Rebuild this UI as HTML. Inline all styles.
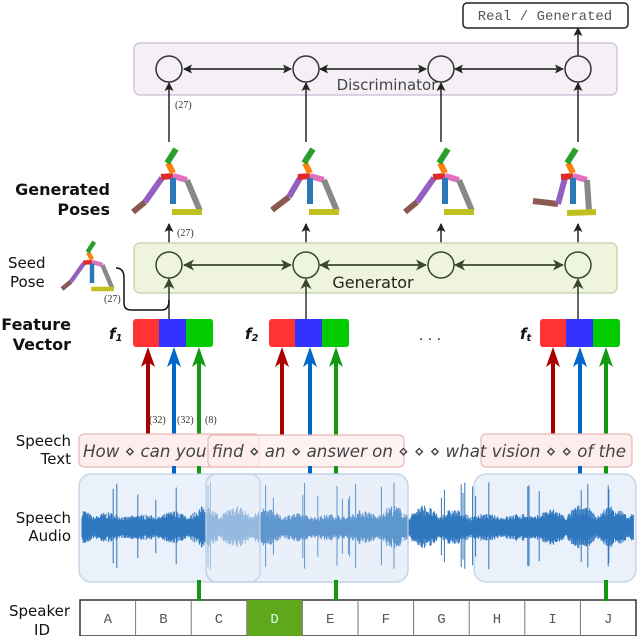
<!DOCTYPE html>
<html><head><meta charset="utf-8"><style>
body{margin:0;background:#fff;}
svg{display:block;}
text{font-family:"DejaVu Sans","Liberation Sans",sans-serif;}
</style></head><body>
<svg id="s" width="640" height="636" viewBox="0 0 640 636" xmlns="http://www.w3.org/2000/svg">
<defs>
<marker id="ak" markerWidth="9" markerHeight="9" refX="8" refY="4.5" orient="auto" markerUnits="userSpaceOnUse"><path d="M0,0 L9,4.5 L0,9 L2,4.5z" fill="#222"/></marker>
<marker id="ag" markerWidth="11" markerHeight="11" refX="10" refY="5.5" orient="auto" markerUnits="userSpaceOnUse"><path d="M0,0 L11,5.5 L0,11 L3,5.5z" fill="#3a4630"/></marker>
</defs>
<rect x="463" y="3" width="165" height="25" rx="4" fill="#fff" stroke="#222" stroke-width="1.5"/>
<text x="545" y="20" font-size="14" text-anchor="middle" fill="#555" style="font-family:'Liberation Mono',monospace">Real / Generated</text>
<rect x="134" y="43" width="483" height="52" rx="6" fill="#f4f0f6" stroke="#d2c6da" stroke-width="1.5"/>
<text x="387" y="90" font-size="15" fill="#444" text-anchor="middle">Discriminator</text>
<g stroke="#333" stroke-width="1.6" fill="none" marker-end="url(#ak)">
<line x1="184" y1="69" x2="291" y2="69"/><line x1="291" y1="69" x2="184" y2="69"/>
<line x1="320" y1="69" x2="426" y2="69"/><line x1="426" y1="69" x2="320" y2="69"/>
<line x1="455" y1="69" x2="563" y2="69"/><line x1="563" y1="69" x2="455" y2="69"/>
<line x1="578" y1="56" x2="578" y2="28"/>
<line x1="169" y1="142" x2="169" y2="83"/><line x1="306" y1="142" x2="306" y2="83"/>
<line x1="441" y1="142" x2="441" y2="83"/><line x1="578" y1="142" x2="578" y2="83"/>
<line x1="169" y1="244" x2="169" y2="224"/><line x1="306" y1="244" x2="306" y2="224"/>
<line x1="441" y1="244" x2="441" y2="224"/><line x1="578" y1="244" x2="578" y2="224"/>
</g>
<g fill="none" stroke="#333" stroke-width="1.5">
<circle cx="169" cy="69" r="13"/><circle cx="306" cy="69" r="13"/><circle cx="441" cy="69" r="13"/><circle cx="578" cy="69" r="13"/>
</g>
<text x="175" y="108" font-size="10" fill="#333" style="font-family:'Liberation Serif',serif">(27)</text>
<text x="177" y="236" font-size="10" fill="#333" style="font-family:'Liberation Serif',serif">(27)</text>
<rect x="134" y="243" width="483" height="50" rx="6" fill="#eef5dc" stroke="#ccd6b4" stroke-width="1.5"/>
<text x="373" y="288" font-size="16" fill="#222" text-anchor="middle">Generator</text>
<g stroke="#3a4630" stroke-width="1.6" fill="none" marker-end="url(#ag)">
<line x1="184" y1="265" x2="291" y2="265"/><line x1="291" y1="265" x2="184" y2="265"/>
<line x1="320" y1="265" x2="426" y2="265"/><line x1="426" y1="265" x2="320" y2="265"/>
<line x1="455" y1="265" x2="563" y2="265"/><line x1="563" y1="265" x2="455" y2="265"/>
<line x1="169" y1="319" x2="169" y2="279"/><line x1="306" y1="319" x2="306" y2="279"/>
<line x1="578" y1="319" x2="578" y2="279"/>
</g>
<g fill="none" stroke="#3a4630" stroke-width="1.5">
<circle cx="169" cy="265" r="13"/><circle cx="306" cy="265" r="13"/><circle cx="441" cy="265" r="13"/><circle cx="578" cy="265" r="13"/>
</g>
<path d="M116,268 Q124,268 124,278 L124,303 Q124,310 131,310 L162,310 Q169,310 169,300" fill="none" stroke="#111" stroke-width="1.5"/>
<text x="104" y="302" font-size="10" fill="#333" style="font-family:'Liberation Serif',serif">(27)</text>
<g font-weight="bold" font-size="16" fill="#111" text-anchor="end">
<text x="110" y="195">Generated</text><text x="110" y="215">Poses</text>
<text x="71" y="330">Feature</text><text x="71" y="350">Vector</text>
</g>
<g font-size="15" fill="#111">
<text x="8" y="268">Seed</text><text x="10" y="287">Pose</text>
<text x="71" y="446" text-anchor="end">Speech</text><text x="71" y="464" text-anchor="end">Text</text>
<text x="71" y="523" text-anchor="end">Speech</text><text x="71" y="541" text-anchor="end">Audio</text>
<text x="70" y="616" text-anchor="end">Speaker</text><text x="50" y="635" text-anchor="end">ID</text>
</g>
<g font-style="italic" font-weight="bold" font-size="15" fill="#111" style="font-family:'Liberation Serif',serif">
<text x="109" y="339">f<tspan font-size="10" dy="2">1</tspan></text>
<text x="245" y="339">f<tspan font-size="10" dy="2">2</tspan></text>
<text x="520" y="339">f<tspan font-size="10" dy="2">t</tspan></text>
</g>
<text x="430" y="340" font-size="14" fill="#222" text-anchor="middle">. . .</text>
<g id="fv"></g>
<g id="lines"></g>
<text x="149" y="423" font-size="10" fill="#333" style="font-family:'Liberation Serif',serif">(32)</text>
<text x="177" y="423" font-size="10" fill="#333" style="font-family:'Liberation Serif',serif">(32)</text>
<text x="205" y="423" font-size="10" fill="#333" style="font-family:'Liberation Serif',serif">(8)</text>
<g id="poses"></g>
<rect x="79" y="434" width="180" height="33" rx="5" fill="#fdeeed" stroke="#e8b8b4" stroke-width="1.2"/>
<rect x="208" y="435" width="196" height="32" rx="5" fill="#fdeeed" fill-opacity="0.7" stroke="#e8b8b4" stroke-width="1.2"/>
<rect x="481" y="434" width="151" height="33" rx="5" fill="#fdeeed" stroke="#e8b8b4" stroke-width="1.2"/>
<text x="83" y="457" font-size="17" font-style="italic" fill="#444" textLength="543" lengthAdjust="spacingAndGlyphs">How ⋄ can you find ⋄ an ⋄ answer on ⋄ ⋄ ⋄  what vision ⋄ ⋄ of the</text>
<g id="mid"></g>
<rect x="79" y="474" width="329" height="108" rx="12" fill="#eaf1fa" stroke="#bcd0e6" stroke-width="1.2"/>
<rect x="474" y="474" width="162" height="108" rx="12" fill="#eaf1fa" stroke="#bcd0e6" stroke-width="1.2"/>
<path id="wave" fill="none" stroke="#2f78bf" stroke-width="1"/>
<rect x="206" y="474" width="202" height="108" rx="12" fill="#eaf1fa" fill-opacity="0.25" stroke="#bcd0e6" stroke-width="1.2"/>
<rect x="206" y="474" width="54" height="108" rx="10" fill="#eaf1fa" fill-opacity="0.4" stroke="#bcd0e6" stroke-width="1.2"/>
<g id="spk"></g>
</svg>
<script>
var N="http://www.w3.org/2000/svg",s=document.getElementById('s');
function el(t,a,p){var e=document.createElementNS(N,t);for(var k in a)e.setAttribute(k,a[k]);(p||s).appendChild(e);return e;}
var L=document.getElementById('lines'),M=document.getElementById('mid');
var cols=["#aa0000","#0066cc","#119911"];
[[148,174,199],[282,310,336],[553,580,606]].forEach(function(xs){
 xs.forEach(function(x,i){
  el('line',{x1:x,y1:436,x2:x,y2:362,stroke:cols[i],'stroke-width':4},L);
  el('path',{d:'M'+(x-7)+',367 L'+x+',347 L'+(x+7)+',367 L'+x+',362z',fill:cols[i]},L);
  if(i>0)el('line',{x1:x,y1:466,x2:x,y2:476,stroke:cols[i],'stroke-width':4},M);
  if(i==2)el('line',{x1:x,y1:580,x2:x,y2:601,stroke:cols[i],'stroke-width':4},s);
 });
});
var F=document.getElementById('fv');
[133,269,540].forEach(function(x){
 el('rect',{x:x,y:319,width:80,height:28,rx:3,fill:"#ff3333"},F);
 el('rect',{x:x+26,y:319,width:27,height:28,fill:"#3333ff"},F);
 el('rect',{x:x+53,y:319,width:27,height:28,rx:3,fill:"#00cc00"},F);
 el('rect',{x:x+53,y:319,width:10,height:28,fill:"#00cc00"},F);
});
var P=document.getElementById('poses');
function pose(ox,oy,sc,v){
 var g=el('g',{transform:'translate('+ox+','+oy+') scale('+sc+')'},P);
 var segs=[["#8a5a52",-40,36,-28,26],["#9460c0",-28,26,-11,2],["#e02a2a",-12,1,0,0],["#e070c0",0,0,14,4],["#888",14,4,27,35],["#2a78b8",0,2,0,28],["#c0c020",-1,36,29,36],["#ff8010",-5,-13,0,-3],["#2aa02a",-6,-13,3,-27]];
 if(v==1){segs[0]=["#8a5a52",-38,34,-21,21];segs[1]=["#9460c0",-21,21,-10,2];}
 if(v==2){segs[0]=["#8a5a52",-40,25,-15,28];segs[1]=["#9460c0",-15,28,-8,2];segs[4]=["#888",14,4,16,35];segs[6]=["#c0c020",-6,37,23,36];}
 segs.forEach(function(q){el('line',{x1:q[1],y1:q[2],x2:q[3],y2:q[4],stroke:q[0],'stroke-width':6},g);});
}
pose(173,176,1,0);pose(310,176,1,1);pose(445,176,1,0);pose(573,176,1,2);pose(92,262,0.75,0);
var d="",seed=7;function r(){seed=(seed*16807)%2147483647;return seed/2147483647;}
for(var x=82;x<634;x+=0.6){
 var env=0.35+0.65*Math.abs(Math.sin(x/10))*(0.6+0.4*Math.sin(x/29));
 var a=4+env*20*(0.4+0.6*r()); if(r()<0.03)a=28+r()*18;
 d+="M"+x.toFixed(1)+","+(528-a).toFixed(1)+"V"+(528+a*0.9).toFixed(1);
}
document.getElementById('wave').setAttribute('d',d);
var S=document.getElementById('spk');
el('rect',{x:80,y:600,width:556,height:36,fill:"#fff",stroke:"#333","stroke-width":1.5},S);
"ABCDEFGHIJ".split("").forEach(function(c,i){
 var x=80+i*55.6;
 if(i==3)el('rect',{x:x,y:600,width:55.6,height:36,fill:"#5fa81c"},S);
 if(i>0)el('line',{x1:x,y1:600,x2:x,y2:636,stroke:"#777","stroke-width":1},S);
 var t=el('text',{x:x+27.8,y:623,"text-anchor":"middle","font-size":14,fill:i==3?"#dfe":"#555",style:"font-family:'Liberation Mono',monospace"},S);t.textContent=c;
});
</script>
</body></html>
